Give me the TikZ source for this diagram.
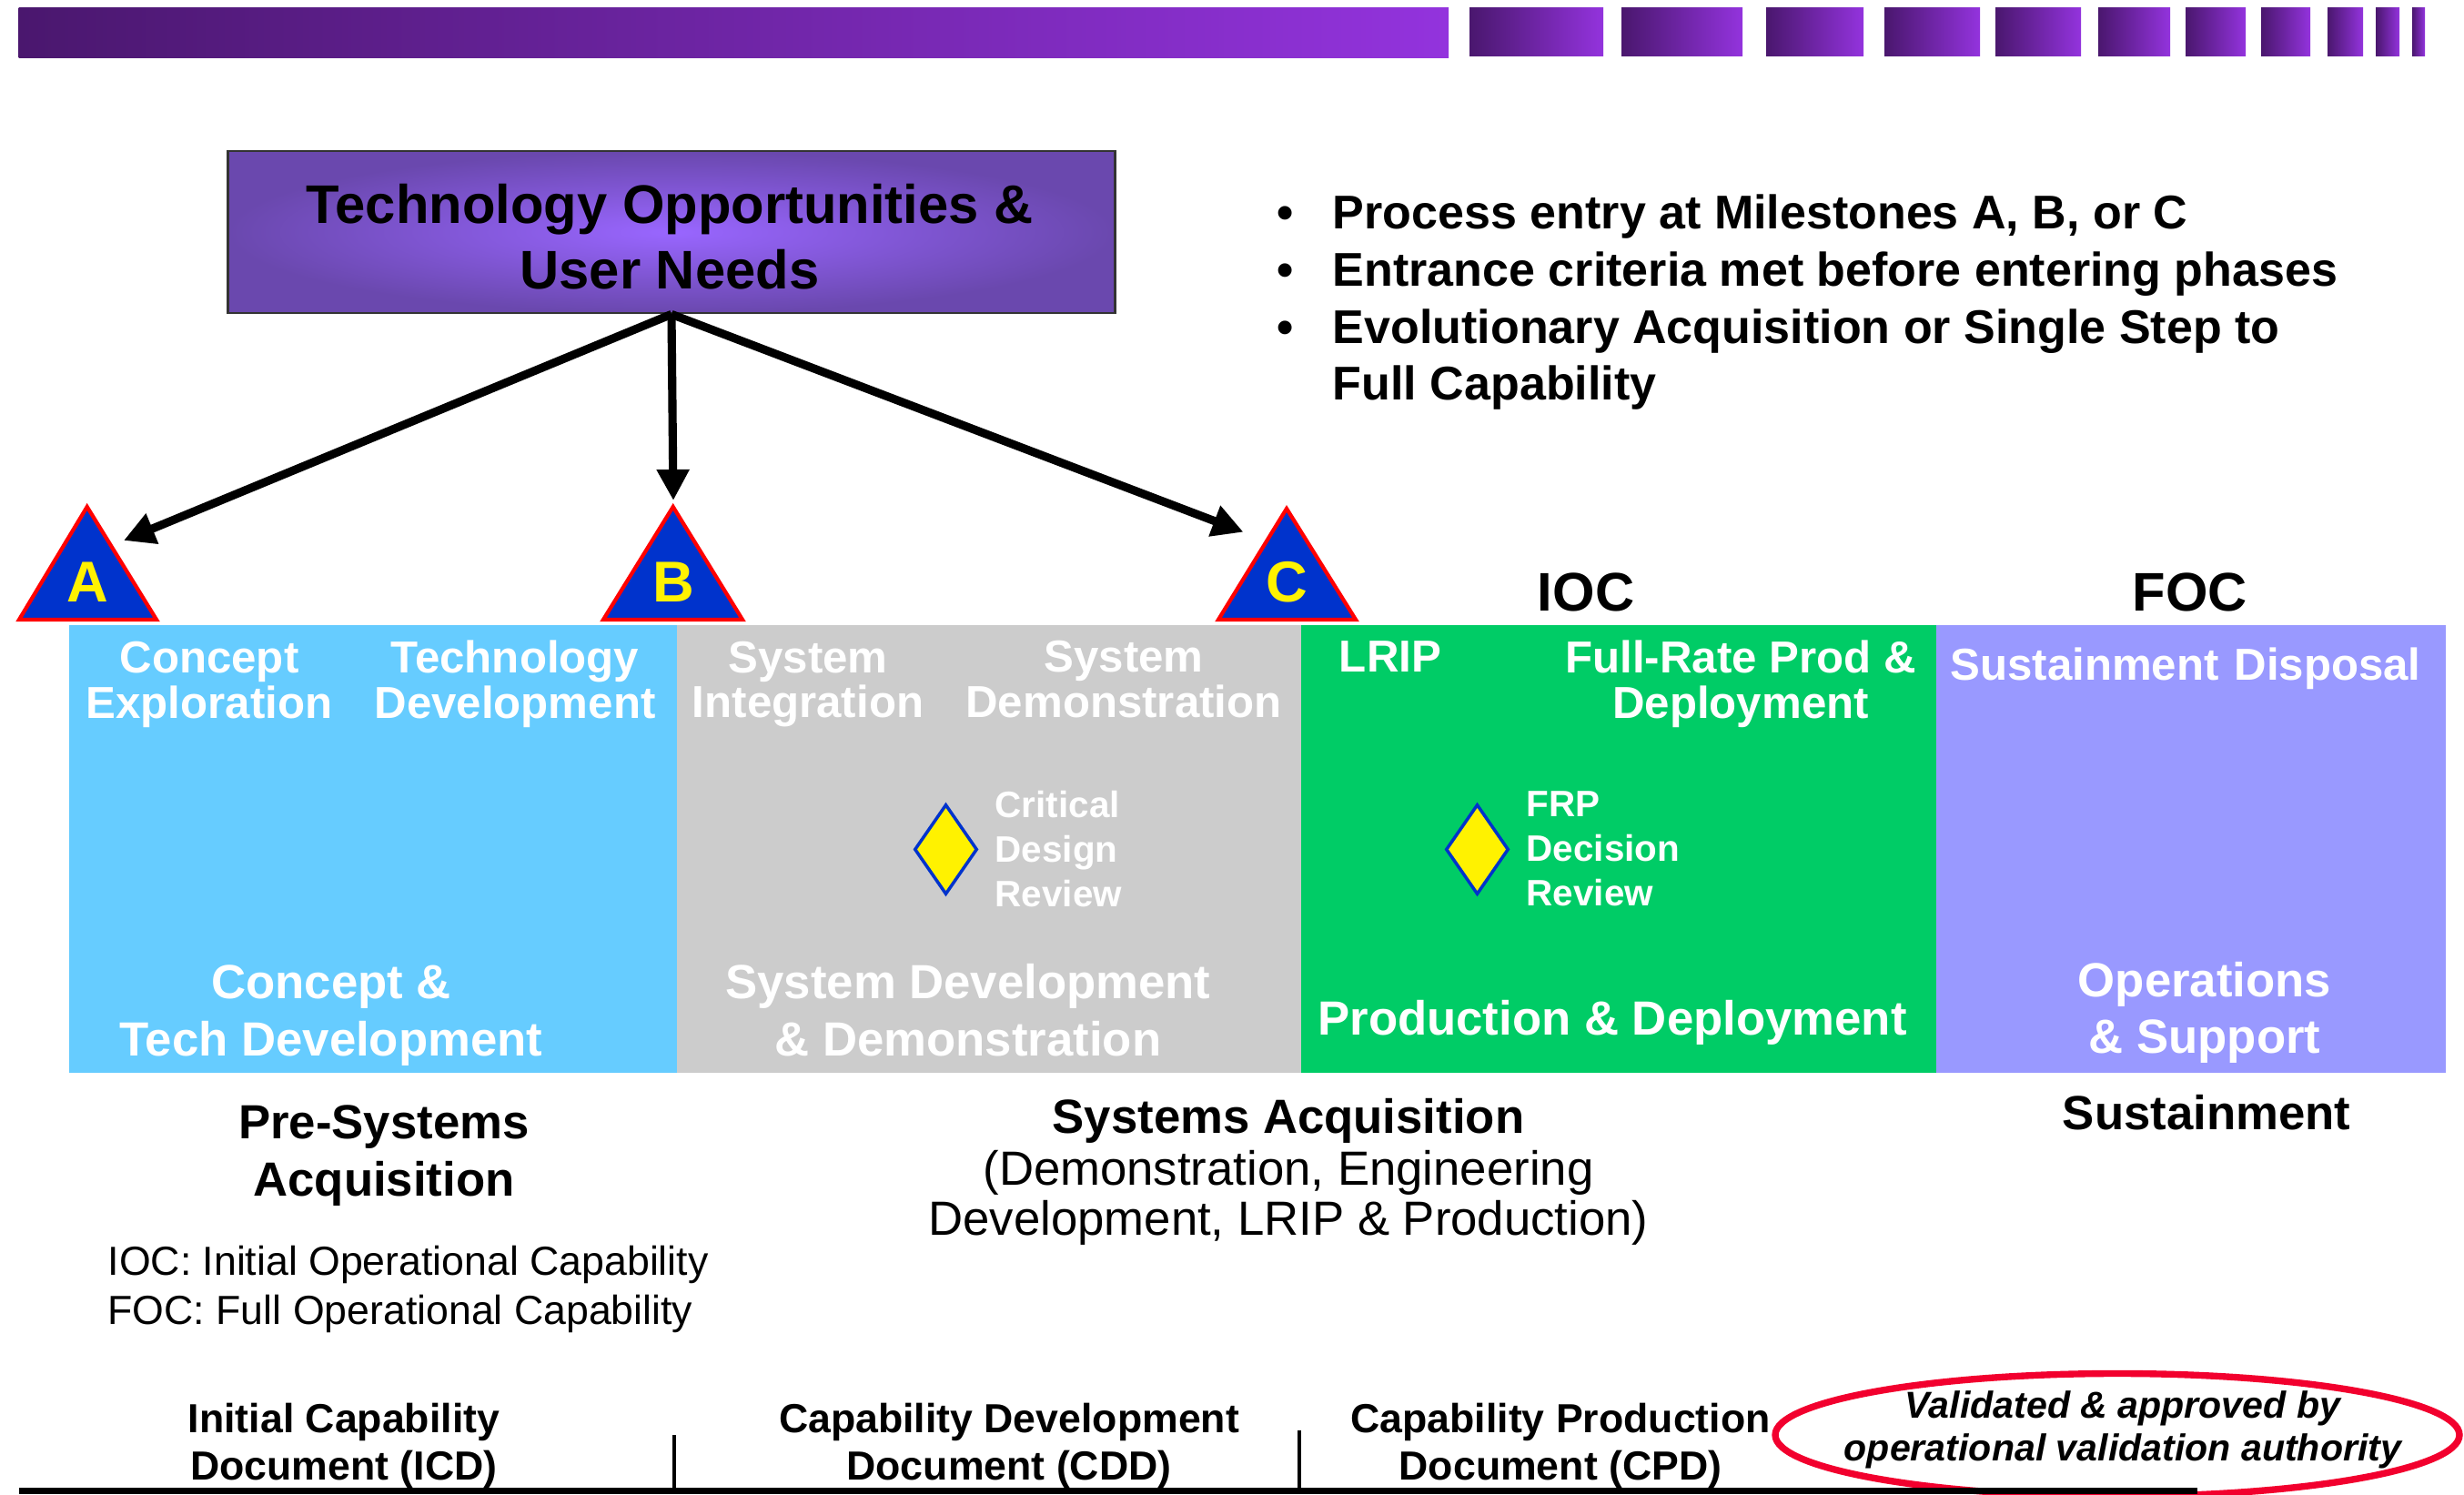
\documentclass[tikz,border=0pt]{standalone}
\usepackage{fontspec}
\setmainfont{Liberation Sans}
\usetikzlibrary{arrows.meta}
\usetikzlibrary{shapes.geometric}
\definecolor{bardark}{HTML}{4A176E}
\definecolor{barlight}{HTML}{9333DD}
\definecolor{needdark}{HTML}{6A48AE}
\definecolor{needlight}{HTML}{9966FF}
\definecolor{msblue}{HTML}{0033CC}
\definecolor{cptblue}{HTML}{66CCFF}
\definecolor{sddgray}{HTML}{CCCCCC}
\definecolor{pdgreen}{HTML}{00CC66}
\definecolor{ospurple}{HTML}{9999FF}
\definecolor{valred}{HTML}{F2002E}

\begin{document}
\begin{tikzpicture}[
	arr/.style={line width=2.6pt, -{Triangle[length=0.34cm, width=0.34cm]}},
	stage/.style={text=white, font=\fontsize{14}{14.2}\selectfont\bfseries, align=center, inner sep=0},
	phase/.style={text=white, font=\fontsize{15}{17.8}\selectfont\bfseries, align=center, inner sep=0},
	review/.style={text=white, font=\fontsize{11.5}{14}\selectfont\bfseries, align=left, anchor=west, inner sep=0},
	dmd/.style={diamond, fill=yellow, draw=msblue, line width=1pt, minimum width=0.69cm, minimum height=0.99cm, inner sep=0},
	mslet/.style={text=yellow, font=\fontsize{18}{18}\selectfont\bfseries, inner sep=0},
	tri/.style={fill=msblue, draw=red, line width=1.2pt},
	capab/.style={font=\fontsize{17}{17}\selectfont\bfseries, inner sep=0},
	grp/.style={font=\fontsize{15}{18}\selectfont\bfseries, align=center, inner sep=0},
	doc/.style={font=\fontsize{12.7}{15}\selectfont\bfseries, align=center, inner sep=0}]
	\useasboundingbox (0,0) rectangle (27.08,16.42);

	\shade[left color=bardark, right color=barlight] (0.207,15.78) rectangle (15.92,16.33);
	\foreach \l/\r in {16.15/17.62, 17.82/19.15, 19.41/20.48, 20.71/21.76, 21.93/22.87, 23.06/23.85, 24.02/24.68, 24.85/25.39, 25.58/25.97, 26.11/26.37, 26.51/26.65}
		\shade[left color=bardark, right color=barlight] (\l,15.80) rectangle (\r,16.33);

	\node[draw=black!80, line width=0.8pt, inner color=needlight, outer color=needdark, minimum width=9.75cm, minimum height=1.78cm] (need) at (7.38,13.87) {};
	\node[font=\fontsize{17}{20.5}\selectfont\bfseries, align=center, inner sep=0] (needtxt) at (7.36,13.82) {Technology Opportunities \&\\User Needs};

	\node[anchor=west, inner sep=0, font=\fontsize{14.8}{17.9}\selectfont\bfseries] (pts) at (14.03,13.09) {\begin{tabular}{@{}l@{\hspace{0.43cm}}l@{}}
		\textbullet & Process entry at Milestones A, B, or C\\
		\textbullet & Entrance criteria met before entering phases\\
		\textbullet & Evolutionary Acquisition or Single Step to\\
		 & Full Capability
	\end{tabular}};

	\fill[cptblue] (0.756,4.63) rectangle (7.435,9.55);
	\fill[sddgray] (7.435,4.63) rectangle (14.297,9.55);
	\fill[pdgreen] (14.297,4.63) rectangle (21.28,9.55);
	\fill[ospurple] (21.28,4.63) rectangle (26.88,9.55);

	\draw[tri] (0.21,9.61) -- (0.957,10.85) -- (1.72,9.61) -- cycle;
	\draw[tri] (6.63,9.61) -- (7.397,10.85) -- (8.16,9.61) -- cycle;
	\draw[tri] (13.39,9.61) -- (14.14,10.83) -- (14.90,9.61) -- cycle;
	\node[mslet] (msA) at (0.967,10.02) {A};
	\node[mslet] (msB) at (7.40,10.02) {B};
	\node[mslet] (msC) at (14.14,10.02) {C};

	\coordinate (tipA) at (1.36,10.48);
	\coordinate (tipB) at (7.40,10.92);
	\coordinate (tipC) at (13.665,10.573);
	\draw[arr] (need.south) -- (tipA);
	\draw[arr] (need.south) -- (tipB);
	\draw[arr] (need.south) -- (tipC);

	\node[capab] (ioc) at (17.43,9.91) {IOC};
	\node[capab] (foc) at (24.07,9.91) {FOC};

	\node[stage] (ce) at (2.30,8.90) {Concept\\Exploration};
	\node[stage] (td) at (5.66,8.90) {Technology\\Development};
	\node[stage] (si) at (8.88,8.90) {System\\Integration};
	\node[stage] (sd) at (12.35,8.95) {System\\Demonstration};
	\node[stage] (lrip) at (15.28,9.20) {LRIP};
	\node[stage] (frd) at (19.13,8.90) {Full-Rate Prod \&\\Deployment};
	\node[stage] (sus) at (22.91,9.12) {Sustainment};
	\node[stage] (disp) at (25.58,9.07) {Disposal};

	\node[dmd] (cdr) at (10.395,7.085) {};
	\node[review] (cdrtxt) at (10.93,7.09) {Critical\\Design\\Review};
	\node[dmd] (frp) at (16.235,7.085) {};
	\node[review] (frptxt) at (16.77,7.09) {FRP\\Decision\\Review};

	\node[phase] (ctd) at (3.64,5.26) {Concept \&\\Tech Development};
	\node[phase] (sdd) at (10.64,5.32) {System Development\\\& Demonstration};
	\node[phase] (pd) at (17.72,5.18) {Production \& Deployment};
	\node[phase] (os) at (24.23,5.29) {Operations\\\& Support};

	\node[grp] (pre) at (4.22,3.72) {Pre-Systems\\Acquisition};
	\node[grp] (sys) at (14.16,4.10) {Systems Acquisition};
	\node[font=\fontsize{15}{15.6}\selectfont, align=center, inner sep=0] (sysnote) at (14.16,3.26) {(Demonstration, Engineering\\Development, LRIP \& Production)};
	\node[grp] (sust) at (24.25,4.19) {Sustainment};
	\node[font=\fontsize{12.7}{15.2}\selectfont, align=left, anchor=west, inner sep=0] (abbr) at (1.18,2.25) {IOC: Initial Operational Capability\\FOC: Full Operational Capability};

	\node[doc] (icd) at (3.78,0.53) {Initial Capability\\Document (ICD)};
	\node[doc] (cdd) at (11.09,0.53) {Capability Development\\Document (CDD)};
	\node[doc] (cpd) at (17.15,0.53) {Capability Production\\Document (CPD)};
	\node[ellipse, draw=valred, line width=2.1pt, minimum width=7.52cm, minimum height=1.35cm, inner sep=0] (ring) at (23.27,0.65) {};
	\node[font=\fontsize{11.7}{13.4}\selectfont\bfseries\itshape, align=center, inner sep=0] (valid) at (23.33,0.71) {Validated \& approved by\\operational validation authority};

	\draw[line width=0.07cm] (0.21,0.035) -- (24.15,0.035);
	\draw[line width=1pt] (7.41,0.65) -- (7.41,0.035);
	\draw[line width=1pt] (14.28,0.70) -- (14.28,0.035);
\end{tikzpicture}
\end{document}
